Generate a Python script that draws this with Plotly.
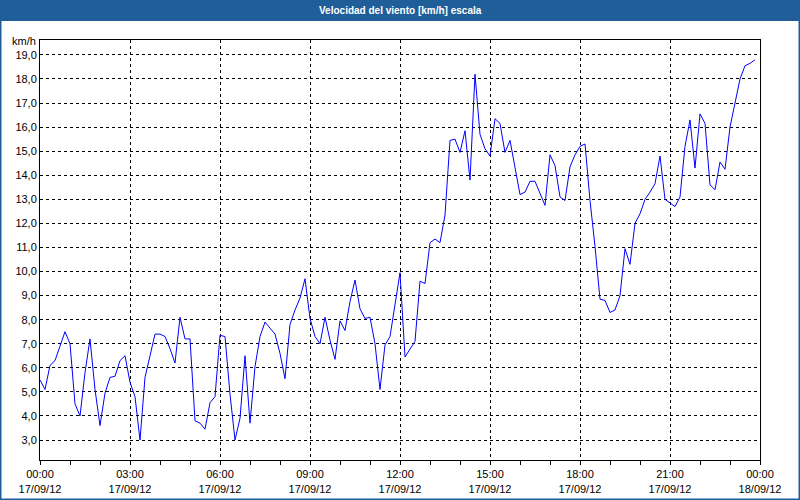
import plotly.graph_objects as go
import pandas as pd

# ---- data ----
start_time = "2012-09-17 00:00"
n_points = 144  # 10-minute samples
wind_kmh = [
    5.5, 5.1, 6.1, 6.3, 6.9, 7.5, 7.0, 4.5, 4.0, 5.8, 7.2, 5.1, 3.6, 4.95, 5.6,
    5.65, 6.3, 6.5, 5.4, 4.8, 3.0, 5.6, 6.5, 7.4, 7.4, 7.3, 6.8, 6.2, 8.1, 7.2,
    7.2, 3.8, 3.7,
    3.45, 4.55, 4.8, 7.35, 7.3, 4.9, 3.0, 3.9, 6.5, 3.7, 6.05, 7.3, 7.9, 7.65, 7.4,
    6.6, 5.55, 7.8, 8.4, 8.9, 9.7, 8.05, 7.3, 7.0, 8.1, 7.15, 6.35, 7.95, 7.55, 8.75,
    9.65, 8.45, 8.05, 8.1, 7.0, 5.1, 6.95,
    7.3, 8.6, 9.95, 6.45, 6.8, 7.1, 9.6, 9.5, 11.2, 11.35, 11.2, 12.35, 15.45, 15.5,
    14.95, 15.85, 13.8, 18.2, 15.7, 15.1, 14.8, 16.35, 16.15, 14.95, 15.45, 14.35,
    13.2, 13.3, 13.75, 13.75, 13.25, 12.75, 14.85, 14.4, 13.1, 12.95, 14.35, 14.85,
    15.2, 15.3, 12.95, 11.05, 8.85, 8.8, 8.3, 8.4, 9.0, 10.95, 10.3, 12.0, 12.4, 13.0,
    13.3, 13.65, 14.8, 13.0, 12.85, 12.7, 13.1, 15.2, 16.3, 14.3, 16.55, 16.15, 13.6,
    13.4, 14.55, 14.25, 16.0, 16.95, 18.0, 18.55, 18.65, 18.8,
]
x_tick_vals = ["2012-09-17 00:00", "2012-09-17 03:00", "2012-09-17 06:00",
               "2012-09-17 09:00", "2012-09-17 12:00", "2012-09-17 15:00",
               "2012-09-17 18:00", "2012-09-17 21:00", "2012-09-18 00:00"]
x_tick_text = ["00:00<br>17/09/12", "03:00<br>17/09/12", "06:00<br>17/09/12",
               "09:00<br>17/09/12", "12:00<br>17/09/12", "15:00<br>17/09/12",
               "18:00<br>17/09/12", "21:00<br>17/09/12", "00:00<br>18/09/12"]
y_tick_vals = list(range(3, 20))
title_text = "Velocidad del viento [km/h] escala"
unit_text = "km/h"

times = pd.date_range(start_time, periods=n_points, freq="10min")

W, H = 800, 500
ML, MR, MT, MB = 40, 40, 40, 40
PW, PH = W - ML - MR, H - MT - MB

def px(xp):
    return (xp - ML) / PW

def py(yp):
    return (H - MB - yp) / PH

fig = go.Figure()
fig.add_trace(go.Scatter(x=times, y=wind_kmh, mode="lines",
                         line=dict(color="#0000ff", width=1),
                         hoverinfo="skip", showlegend=False))

font = "Liberation Sans, Arial, sans-serif"
fig.update_layout(
    width=W, height=H,
    margin=dict(l=ML, r=MR, t=MT, b=MB, pad=0, autoexpand=False),
    paper_bgcolor="white", plot_bgcolor="white",
    separators=",.",
    font=dict(family=font, size=11, color="black"),
    xaxis=dict(
        type="date",
        range=["2012-09-17 00:00", "2012-09-18 00:00"],
        tickmode="array", tickvals=x_tick_vals, ticktext=x_tick_text,
        ticks="outside", ticklen=4, tickcolor="black", tickwidth=1,
        showgrid=True, gridcolor="black", gridwidth=1, griddash="3px,3px",
        showline=True, linecolor="black", linewidth=1, mirror=True,
        zeroline=False,
        minor=dict(dtick=3600000, tick0="2012-09-17 00:00", ticks="outside",
                   ticklen=4, tickcolor="black", tickwidth=1, showgrid=False),
        tickfont=dict(family=font, size=11, color="black"),
    ),
    yaxis=dict(
        range=[2.17, 19.62],
        tickmode="array", tickvals=y_tick_vals, tickformat=".1f",
        ticks="", showgrid=True, gridcolor="black", gridwidth=1, griddash="3px,3px",
        showline=True, linecolor="black", linewidth=1, mirror=True,
        zeroline=False,
        tickfont=dict(family=font, size=11, color="black"),
    ),
    shapes=[
        dict(type="rect", xref="paper", yref="paper",
             x0=px(0), x1=px(W), y0=py(21), y1=py(0),
             fillcolor="#1f5e98", line=dict(width=0), layer="below"),
        dict(type="rect", xref="paper", yref="paper",
             x0=px(0.5), x1=px(W - 0.5), y0=py(H - 0.5), y1=py(0.5),
             fillcolor="rgba(0,0,0,0)", line=dict(color="#1f5e98", width=2)),
    ],
    annotations=[
        dict(text="<b>" + title_text + "</b>", xref="paper", yref="paper",
             x=px(W / 2), y=py(10.5), xanchor="center", yanchor="middle",
             showarrow=False, font=dict(family=font, size=10, color="white")),
        dict(text=unit_text, xref="paper", yref="paper",
             x=px(37), y=py(48), xanchor="right", yanchor="bottom",
             showarrow=False, borderpad=0,
             font=dict(family=font, size=11, color="black")),
    ],
)

fig.write_html("out.html",
               config={"displayModeBar": False},
               post_script="document.body.style.margin='0';document.body.style.overflow='hidden';")
